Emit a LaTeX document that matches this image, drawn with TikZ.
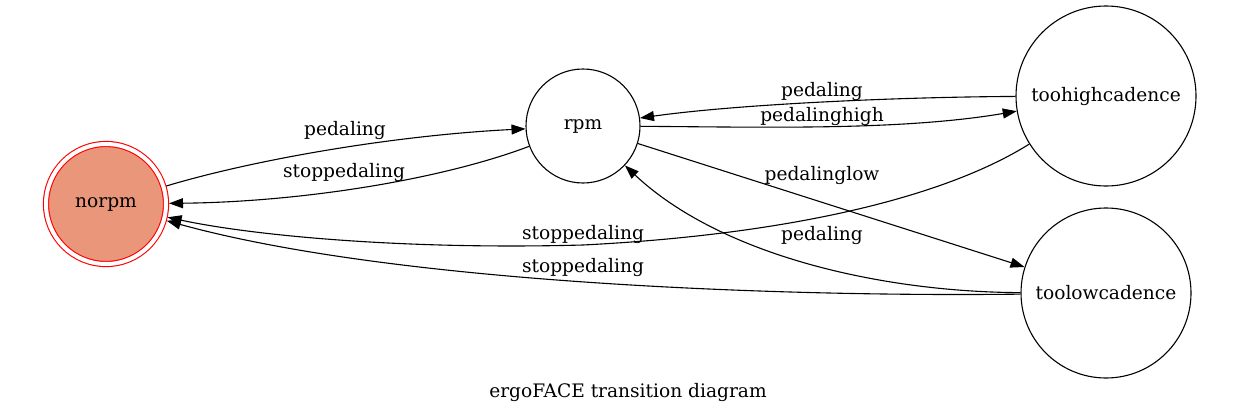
\documentclass[tikz,border=0pt]{standalone}
\usepackage{fontspec}
\setmainfont{DejaVu Serif}
\usetikzlibrary{arrows.meta}
\definecolor{salmon}{RGB}{233,150,122}
\begin{document}
\begin{tikzpicture}[x=1pt,y=-1pt,
  state/.style={circle,draw=black,line width=1.1pt,inner sep=0pt,font=\fontsize{18.6}{22}\selectfont},
  edge/.style={line width=1.1pt,-{Triangle[length=14pt,width=10pt]}},
  lbl/.style={font=\fontsize{18.6}{22}\selectfont,inner sep=1pt}]
\useasboundingbox (0,0) rectangle (1257,415);
\node[state,draw=red,fill=salmon,double=white,double distance=4pt,minimum size=120pt,outer sep=3pt] (norpm) at (106,204) {norpm};
\node[state,minimum size=114pt] (rpm) at (583,126) {rpm};
\node[state,minimum size=180pt] (high) at (1106,96) {toohighcadence};
\node[state,minimum size=170pt] (low) at (1106,293) {toolowcadence};
\node[lbl] (title) at (628,392) {ergoFACE transition diagram};
\coordinate (m7) at (583,245);

\draw[edge] (norpm) .. controls (260,158) and (400,135) .. (rpm);
\node[lbl] (l1) at (345,130) {pedaling};
\draw[edge] (rpm) .. controls (440,180) and (300,202) .. (norpm);
\node[lbl] (l2) at (344,172) {stoppedaling};
\draw[edge] (high) .. controls (900,97) and (740,104) .. (rpm);
\node[lbl] (l3) at (822,91) {pedaling};
\draw[edge] (rpm) .. controls (760,127) and (900,131) .. (high);
\node[lbl] (l4) at (822,116) {pedalinghigh};
\draw[edge] (rpm) -- (low);
\node[lbl] (l5) at (822,175) {pedalinglow};
\draw[edge] (low) .. controls (880,292) and (720,255) .. (rpm);
\node[lbl] (l6) at (822,235) {pedaling};
\draw[edge] (high) .. controls (940,200) and (780,235) .. (m7) .. controls (400,250) and (250,235) .. (norpm);
\node[lbl] (l7) at (583,234) {stoppedaling};
\draw[edge] (low) .. controls (800,297) and (400,285) .. (norpm);
\node[lbl] (l8) at (583,267) {stoppedaling};
\end{tikzpicture}
\end{document}
